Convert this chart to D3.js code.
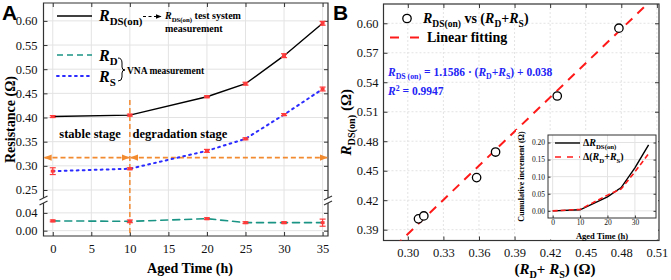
<!DOCTYPE html>
<html lang="en">
  <head>
    <meta charset="UTF-8" />
    <title>rds-on</title>
    <style>
      body { margin: 0; background: #fff; }
      svg text { font-family: "Liberation Serif", "Times New Roman", serif; }
      svg text.sans { font-family: "Liberation Sans", Arial, sans-serif; }
    </style>
  </head>
  <body>
    <svg width="671" height="280" id="svg"></svg>
    <script src="https://cdn.jsdelivr.net/npm/d3@7/dist/d3.min.js"></script>
    <script>
      // ---- data ----
      const times = [0, 10, 20, 25, 30, 35];
      const rdsOn = [0.402, 0.405, 0.443, 0.47, 0.528, 0.595];
      const rdsErr = [0.002, 0.002, 0.002, 0.003, 0.004, 0.004];
      const rD = [0.022, 0.021, 0.027, 0.018, 0.018, 0.018];
      const rDErr = [0.002, 0.003, 0.002, 0.002, 0.002, 0.008];
      const rS = [0.289, 0.294, 0.331, 0.356, 0.406, 0.459];
      const rSErr = [0.007, 0.002, 0.003, 0.002, 0.002, 0.004];
      // panel B scatter
      const sumRdRs = [0.309, 0.3135, 0.358, 0.374, 0.426, 0.478];
      const rdsMeas = [0.401, 0.404, 0.443, 0.469, 0.526, 0.595];
      const fitSlope = 1.1586;
      const fitIntercept = 0.038;
      // inset
      const dRds = [0, 0.003, 0.041, 0.068, 0.126, 0.193];
      const dSum = [0, 0.004, 0.046, 0.064, 0.114, 0.167];

      const xTicksA = [0, 5, 10, 15, 20, 25, 30, 35];
      const yTicksAUp = [0.25, 0.3, 0.35, 0.4, 0.45, 0.5, 0.55, 0.6];
      const yTicksALow = [0.0, 0.04];
      const xTicksB = [0.3, 0.33, 0.36, 0.39, 0.42, 0.45, 0.48, 0.51];
      const yTicksB = [0.39, 0.42, 0.45, 0.48, 0.51, 0.54, 0.57, 0.6];
      const xTicksIn = [0, 10, 20, 30];
      const yTicksIn = [0, 0.05, 0.1, 0.15, 0.2];

      const svg = d3.select("#svg");
      const gridColor = "#e3e3e3";
      const frameColor = "#333";
      const errColor = "#ff3a3a";
      const orange = "#f28a30";

      const defs = svg.append("defs");
      function arrowMarker(id, color, size) {
        defs.append("marker")
          .attr("id", id)
          .attr("viewBox", "0 0 10 10")
          .attr("refX", 9).attr("refY", 5)
          .attr("markerWidth", size).attr("markerHeight", size)
          .attr("orient", "auto-start-reverse")
          .attr("markerUnits", "userSpaceOnUse")
          .append("path")
          .attr("d", "M0,1 L10,5 L0,9 Z")
          .attr("fill", color);
      }
      arrowMarker("arrOrange", orange, 8);
      arrowMarker("arrBlack", "#000", 6);

      // rich text helper: parts = [[text, {italic, sub, sup}] ...]
      function rich(g, x, y, parts, opts) {
        const t = g.append("text").attr("x", x).attr("y", y)
          .attr("font-weight", "bold")
          .attr("font-size", opts.size)
          .attr("fill", opts.fill || "#000")
          .attr("text-anchor", opts.anchor || "start");
        if (opts.rotate) t.attr("transform", `rotate(-90, ${x}, ${y})`);
        let shifted = 0;
        parts.forEach(([s, st]) => {
          st = st || {};
          const sp = t.append("tspan").text(s);
          if (st.italic) sp.attr("font-style", "italic");
          if (st.sub) {
            sp.attr("font-size", opts.size * 0.68);
            if (!shifted) sp.attr("dy", opts.size * 0.28);
            shifted = 1;
          } else if (st.sup) {
            sp.attr("font-size", opts.size * 0.68);
            sp.attr("dy", -opts.size * 0.35);
            shifted = -1;
          } else if (shifted) {
            sp.attr("dy", shifted === 1 ? -opts.size * 0.28 : opts.size * 0.35);
            shifted = 0;
          }
        });
        return t;
      }

      // ================= Panel A =================
      const A = { left: 43.5, right: 328, top: 3, bottom: 236, breakUp: 197, breakLow: 204 };
      const xA = d3.scaleLinear().domain([-1.2, 35.7]).range([A.left, A.right]);
      const yUp = d3.scaleLinear().domain([0.2355, 0.637]).range([A.breakUp, A.top]);
      const yLow = d3.scaleLinear().domain([-0.012, 0.06]).range([A.bottom, A.breakLow]);
      const gA = svg.append("g");

      // grid
      gA.selectAll(".vg").data(xTicksA).join("line")
        .attr("x1", d => xA(d)).attr("x2", d => xA(d))
        .attr("y1", A.top).attr("y2", A.bottom)
        .attr("stroke", gridColor);
      gA.selectAll(".hgu").data(yTicksAUp).join("line").attr("class", "hgu")
        .attr("x1", A.left).attr("x2", A.right)
        .attr("y1", d => yUp(d)).attr("y2", d => yUp(d))
        .attr("stroke", gridColor);
      gA.selectAll(".hgl").data(yTicksALow).join("line").attr("class", "hgl")
        .attr("x1", A.left).attr("x2", A.right)
        .attr("y1", d => yLow(d)).attr("y2", d => yLow(d))
        .attr("stroke", gridColor);

      // axes (inward ticks)
      gA.append("g").attr("transform", `translate(0,${A.bottom})`)
        .call(d3.axisBottom(xA).tickValues(xTicksA).tickSizeInner(-4).tickSizeOuter(0).tickPadding(8));
      gA.append("g").attr("transform", `translate(0,${A.top})`)
        .call(d3.axisTop(xA).tickValues(xTicksA).tickSizeInner(-4).tickSizeOuter(0).tickFormat(""));
      gA.append("g").attr("transform", `translate(${A.left},0)`)
        .call(d3.axisLeft(yUp).tickValues(yTicksAUp).tickSizeInner(-4).tickSizeOuter(0).tickPadding(6).tickFormat(d3.format(".2f")));
      gA.append("g").attr("transform", `translate(${A.left},0)`)
        .call(d3.axisLeft(yLow).tickValues(yTicksALow).tickSizeInner(-4).tickSizeOuter(0).tickPadding(6).tickFormat(d3.format(".2f")));
      gA.append("g").attr("transform", `translate(${A.right},0)`)
        .call(d3.axisRight(yUp).tickValues(yTicksAUp).tickSizeInner(-4).tickSizeOuter(0).tickFormat(""));
      gA.append("g").attr("transform", `translate(${A.right},0)`)
        .call(d3.axisRight(yLow).tickValues(yTicksALow).tickSizeInner(-4).tickSizeOuter(0).tickFormat(""));
      gA.selectAll(".domain").remove();
      gA.selectAll("g").attr("font-family", null);
      gA.selectAll(".tick line").attr("stroke", frameColor);
      gA.selectAll(".tick text").attr("font-size", 12.5).attr("fill", "#111");

      // frame with break
      const bTop = A.breakUp + 1, bBot = A.breakLow - 1;
      gA.append("path")
        .attr("d", `M${A.left},${bTop} V${A.top} H${A.right} V${bTop} M${A.left},${bBot} V${A.bottom} H${A.right} V${bBot}`)
        .attr("fill", "none").attr("stroke", frameColor).attr("stroke-width", 1.2);
      [A.left, A.right].forEach(x => {
        [bTop, bBot].forEach(y => {
          gA.append("line").attr("x1", x - 4).attr("x2", x + 4)
            .attr("y1", y + 2).attr("y2", y - 2)
            .attr("stroke", frameColor).attr("stroke-width", 1.2);
        });
      });

      // orange annotations
      gA.append("line")
        .attr("x1", xA(10)).attr("x2", xA(10))
        .attr("y1", 100).attr("y2", A.bottom)
        .attr("stroke", orange).attr("stroke-width", 1.5).attr("stroke-dasharray", "5,3");
      const yArr = yUp(0.317);
      [[A.left + 1, xA(10) - 1], [xA(10) + 1, A.right - 1]].forEach(([x1, x2]) => {
        gA.append("line")
          .attr("x1", x1).attr("x2", x2).attr("y1", yArr).attr("y2", yArr)
          .attr("stroke", orange).attr("stroke-width", 1.6).attr("stroke-dasharray", "5,3")
          .attr("marker-start", "url(#arrOrange)").attr("marker-end", "url(#arrOrange)");
      });
      gA.append("text").attr("x", 90).attr("y", 138).attr("text-anchor", "middle")
        .attr("font-weight", "bold").attr("font-size", 12.5).text("stable stage");
      gA.append("text").attr("x", 180).attr("y", 138).attr("text-anchor", "middle")
        .attr("font-weight", "bold").attr("font-size", 12.5).text("degradation stage");

      // series
      const series = [
        { vals: rdsOn, err: rdsErr, y: yUp, color: "#000", dash: null, width: 1.4 },
        { vals: rS, err: rSErr, y: yUp, color: "#2b2bff", dash: "1.8,4.2", width: 2 },
        { vals: rD, err: rDErr, y: yLow, color: "#1a9484", dash: "7,5", width: 1.6 },
      ];
      series.forEach(s => {
        const line = d3.line().x((d, i) => xA(times[i])).y(d => s.y(d));
        gA.append("path").datum(s.vals).attr("d", line)
          .attr("fill", "none").attr("stroke", s.color).attr("stroke-width", s.width)
          .attr("stroke-dasharray", s.dash).attr("stroke-linecap", "round");
        const eb = gA.append("g").attr("stroke", errColor).attr("stroke-width", 1.2);
        s.vals.forEach((v, i) => {
          const x = xA(times[i]);
          const y1 = s.y(v - s.err[i]), y2 = s.y(v + s.err[i]);
          eb.append("line").attr("x1", x).attr("x2", x).attr("y1", y1).attr("y2", y2);
          eb.append("line").attr("x1", x - 3).attr("x2", x + 3).attr("y1", y1).attr("y2", y1);
          eb.append("line").attr("x1", x - 3).attr("x2", x + 3).attr("y1", y2).attr("y2", y2);
          eb.append("rect").attr("x", x - 2).attr("y", s.y(v) - 1.5).attr("width", 4).attr("height", 3)
            .attr("fill", errColor).attr("stroke", "none");
        });
      });

      // legend A
      gA.append("line").attr("x1", 57).attr("x2", 92).attr("y1", 16).attr("y2", 16)
        .attr("stroke", "#000").attr("stroke-width", 1.4);
      rich(gA, 99, 21, [["R", { italic: true }], ["DS(on)", { sub: true }]], { size: 16 });
      gA.append("line").attr("x1", 143).attr("x2", 161).attr("y1", 16.5).attr("y2", 16.5)
        .attr("stroke", "#000").attr("stroke-width", 1.2).attr("stroke-dasharray", "3,2.5")
        .attr("marker-end", "url(#arrBlack)");
      rich(gA, 165, 19, [["R", { italic: true }], ["DS(on)", { sub: true }], [" test system"]], { size: 10 });
      gA.append("text").attr("x", 165).attr("y", 32).attr("font-weight", "bold").attr("font-size", 10)
        .text("measurement");
      gA.append("line").attr("x1", 57).attr("x2", 92).attr("y1", 55).attr("y2", 55)
        .attr("stroke", "#1a9484").attr("stroke-width", 1.6).attr("stroke-dasharray", "6,4");
      gA.append("line").attr("x1", 57).attr("x2", 92).attr("y1", 76).attr("y2", 76)
        .attr("stroke", "#2b2bff").attr("stroke-width", 2).attr("stroke-dasharray", "1.8,4.2")
        .attr("stroke-linecap", "round");
      rich(gA, 99, 61, [["R", { italic: true }], ["D", { sub: true }]], { size: 16 });
      rich(gA, 99, 82, [["R", { italic: true }], ["S", { sub: true }]], { size: 16 });
      gA.append("path").attr("d", "M118,58 Q122,58 122,63 L122,67 Q122,70 125,70 Q122,70 122,73 L122,77 Q122,81 118,81")
        .attr("fill", "none").attr("stroke", "#000").attr("stroke-width", 1);
      gA.append("text").attr("x", 127).attr("y", 74).attr("font-weight", "bold").attr("font-size", 9.5)
        .text("VNA measurement");

      // axis titles A
      rich(gA, 15, (A.top + A.bottom) / 2, [["Resistance (Ω)"]], { size: 14, rotate: true, anchor: "middle" });
      rich(gA, 190, 273, [["Aged Time (h)"]], { size: 14, anchor: "middle" });
      gA.append("text").attr("class", "sans").attr("x", 2).attr("y", 20).attr("font-weight", "bold").attr("font-size", 21)
        .text("A");

      // ================= Panel B =================
      const B = { left: 383.5, right: 659, top: 4, bottom: 240.5 };
      const xB = d3.scaleLinear().domain([0.2795, 0.5118]).range([B.left, B.right]);
      const yB = d3.scaleLinear().domain([0.379, 0.6196]).range([B.bottom, B.top]);
      const gB = svg.append("g");

      gB.selectAll(".vg").data(xTicksB).join("line")
        .attr("x1", d => xB(d)).attr("x2", d => xB(d)).attr("y1", B.top).attr("y2", B.bottom)
        .attr("stroke", gridColor).attr("stroke-dasharray", "2,2");
      gB.selectAll(".hg").data(yTicksB).join("line").attr("class", "hg")
        .attr("x1", B.left).attr("x2", B.right).attr("y1", d => yB(d)).attr("y2", d => yB(d))
        .attr("stroke", gridColor).attr("stroke-dasharray", "2,2");

      gB.append("g").attr("transform", `translate(0,${B.bottom})`)
        .call(d3.axisBottom(xB).tickValues(xTicksB).tickSizeInner(-4).tickSizeOuter(0).tickPadding(8).tickFormat(d3.format(".2f")));
      gB.append("g").attr("transform", `translate(0,${B.top})`)
        .call(d3.axisTop(xB).tickValues(xTicksB).tickSizeInner(-4).tickSizeOuter(0).tickFormat(""));
      gB.append("g").attr("transform", `translate(${B.left},0)`)
        .call(d3.axisLeft(yB).tickValues(yTicksB).tickSizeInner(-4).tickSizeOuter(0).tickPadding(5).tickFormat(d3.format(".2f")));
      gB.append("g").attr("transform", `translate(${B.right},0)`)
        .call(d3.axisRight(yB).tickValues(yTicksB).tickSizeInner(-4).tickSizeOuter(0).tickFormat(""));
      gB.selectAll(".domain").remove();
      gB.selectAll("g").attr("font-family", null);
      gB.selectAll(".tick line").attr("stroke", frameColor);
      gB.selectAll(".tick text").attr("font-size", 12.5).attr("fill", "#111");
      gB.append("rect").attr("x", B.left).attr("y", B.top)
        .attr("width", B.right - B.left).attr("height", B.bottom - B.top)
        .attr("fill", "none").attr("stroke", frameColor).attr("stroke-width", 1.2);

      // fit line clipped to plot
      defs.append("clipPath").attr("id", "clipB").append("rect")
        .attr("x", B.left).attr("y", B.top).attr("width", B.right - B.left).attr("height", B.bottom - B.top);
      const fitX = xB.domain();
      gB.append("path").attr("clip-path", "url(#clipB)")
        .datum(fitX)
        .attr("d", d3.line().x(d => xB(d)).y(d => yB(fitSlope * d + fitIntercept)))
        .attr("fill", "none").attr("stroke", "#ff1a1a").attr("stroke-width", 2)
        .attr("stroke-dasharray", "9,7");

      gB.selectAll(".pt").data(sumRdRs).join("circle").attr("class", "pt")
        .attr("cx", d => xB(d)).attr("cy", (d, i) => yB(rdsMeas[i])).attr("r", 4.2)
        .attr("fill", "#fff").attr("stroke", "#000").attr("stroke-width", 1.3);

      // legend B
      gB.append("circle").attr("cx", 407).attr("cy", 18.5).attr("r", 4.2)
        .attr("fill", "#fff").attr("stroke", "#000").attr("stroke-width", 1.3);
      rich(gB, 423, 23, [["R", { italic: true }], ["DS(on)", { sub: true }], [" vs ("], ["R", { italic: true }],
        ["D", { sub: true }], ["+"], ["R", { italic: true }], ["S", { sub: true }], [")"]], { size: 14 });
      gB.append("line").attr("x1", 390).attr("x2", 422).attr("y1", 37.5).attr("y2", 37.5)
        .attr("stroke", "#ff1a1a").attr("stroke-width", 2).attr("stroke-dasharray", "9,11");
      rich(gB, 427, 42, [["Linear fitting"]], { size: 14 });
      rich(gB, 388, 76, [["R", { italic: true }], ["DS (on)", { sub: true }], [" = 1.1586 · ("], ["R", { italic: true }],
        ["D", { sub: true }], ["+"], ["R", { italic: true }], ["S", { sub: true }], [") + 0.038"]], { size: 11.5, fill: "#2323f5" });
      rich(gB, 388, 95, [["R", { italic: true }], ["2", { sup: true }], [" = 0.9947"]], { size: 11.5, fill: "#2323f5" });

      rich(gB, 351, (B.top + B.bottom) / 2, [["R", { italic: true }], ["DS(on)", { sub: true }], [" (Ω)"]],
        { size: 15, rotate: true, anchor: "middle" });
      rich(gB, 555, 274, [["("], ["R", { italic: true }], ["D", { sub: true }], ["+ "], ["R", { italic: true }],
        ["S", { sub: true }], [") (Ω)"]], { size: 15, anchor: "middle" });
      gB.append("text").attr("class", "sans").attr("x", 333).attr("y", 20).attr("font-weight", "bold").attr("font-size", 21)
        .text("B");

      // ================= Inset =================
      const I = { left: 548, right: 656, top: 135, bottom: 218 };
      const gI = svg.append("g");
      gI.append("rect").attr("x", 516).attr("y", 130).attr("width", B.right - 516 - 1).attr("height", B.bottom - 130 - 1)
        .attr("fill", "#fff");
      const xI = d3.scaleLinear().domain([-1.7, 37.7]).range([I.left, I.right]);
      const yI = d3.scaleLinear().domain([-0.021, 0.222]).range([I.bottom, I.top]);
      gI.selectAll(".vg").data(xTicksIn).join("line")
        .attr("x1", d => xI(d)).attr("x2", d => xI(d)).attr("y1", I.top).attr("y2", I.bottom)
        .attr("stroke", gridColor);
      gI.selectAll(".hg").data(yTicksIn).join("line").attr("class", "hg")
        .attr("x1", I.left).attr("x2", I.right).attr("y1", d => yI(d)).attr("y2", d => yI(d))
        .attr("stroke", gridColor);
      gI.append("g").attr("transform", `translate(0,${I.bottom})`)
        .call(d3.axisBottom(xI).tickValues(xTicksIn).tickSizeInner(-2.5).tickSizeOuter(0).tickPadding(2));
      gI.append("g").attr("transform", `translate(${I.left},0)`)
        .call(d3.axisLeft(yI).tickValues(yTicksIn).tickSizeInner(-2.5).tickSizeOuter(0).tickPadding(3).tickFormat(d3.format(".2f")));
      gI.append("g").attr("transform", `translate(${I.right},0)`)
        .call(d3.axisRight(yI).tickValues(yTicksIn).tickSizeInner(-2.5).tickSizeOuter(0).tickFormat(""));
      gI.selectAll(".domain").remove();
      gI.selectAll("g").attr("font-family", null);
      gI.selectAll(".tick line").attr("stroke", frameColor);
      gI.selectAll(".tick text").attr("font-size", 7.5).attr("fill", "#111");
      gI.append("rect").attr("x", I.left).attr("y", I.top)
        .attr("width", I.right - I.left).attr("height", I.bottom - I.top)
        .attr("fill", "none").attr("stroke", frameColor).attr("stroke-width", 1);

      const lineI = vals => d3.line().x((d, i) => xI(times[i])).y(d => yI(d))(vals);
      gI.append("path").attr("d", lineI(dRds)).attr("fill", "none")
        .attr("stroke", "#000").attr("stroke-width", 1.4);
      gI.append("path").attr("d", lineI(dSum)).attr("fill", "none")
        .attr("stroke", "#ff1a1a").attr("stroke-width", 1.6).attr("stroke-dasharray", "5,3");

      gI.append("line").attr("x1", 555).attr("x2", 580).attr("y1", 143).attr("y2", 143)
        .attr("stroke", "#000").attr("stroke-width", 1.4);
      rich(gI, 583, 146, [["Δ"], ["R", { italic: true }], ["DS(on)", { sub: true }]], { size: 10 });
      gI.append("line").attr("x1", 555).attr("x2", 580).attr("y1", 157).attr("y2", 157)
        .attr("stroke", "#ff1a1a").attr("stroke-width", 1.6).attr("stroke-dasharray", "6,6");
      rich(gI, 583, 160, [["Δ("], ["R", { italic: true }], ["D", { sub: true }], ["+"], ["R", { italic: true }],
        ["S", { sub: true }], [")"]], { size: 10 });

      rich(gI, 524, (I.top + I.bottom) / 2, [["Cumulative increment (Ω)"]], { size: 8, rotate: true, anchor: "middle" });
      rich(gI, (I.left + I.right) / 2, 238.5, [["Aged Time (h)"]], { size: 8.5, anchor: "middle" });
    </script>
  </body>
</html>
